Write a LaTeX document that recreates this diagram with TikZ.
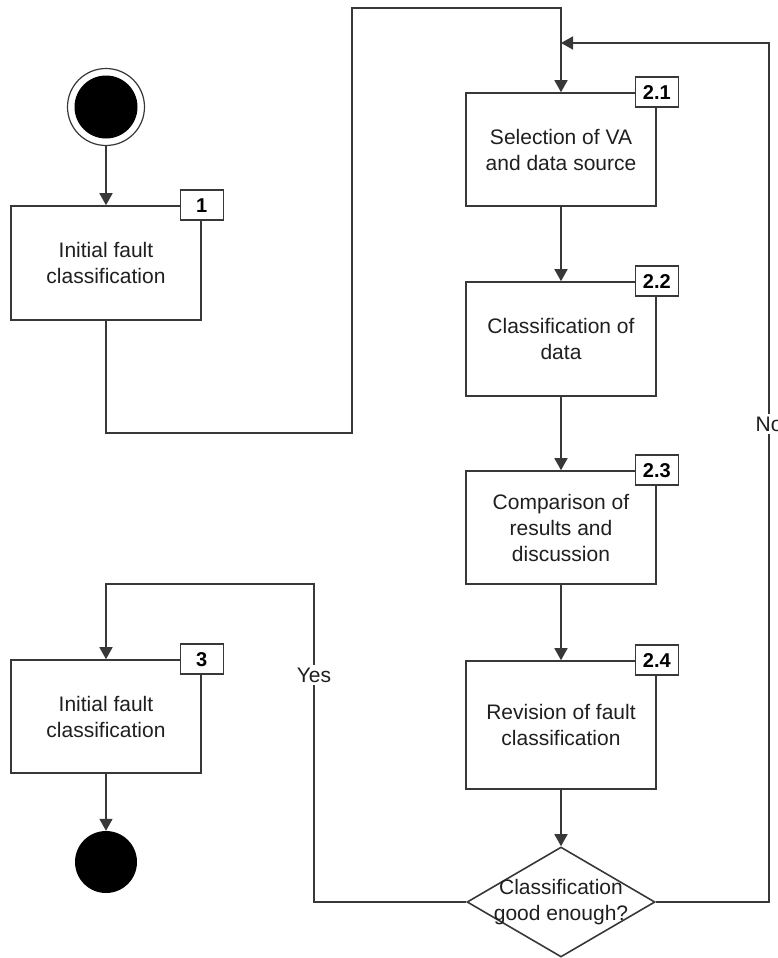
\documentclass[tikz,border=0pt]{standalone}
\usepackage{fontspec}
\setmainfont{Liberation Sans}
\usetikzlibrary{arrows.meta,shapes.geometric}
\begin{document}
\begin{tikzpicture}[x=1pt,y=-1pt,
  line/.style={draw=black!78,line width=1.6pt},
  flow/.style={line,-{Triangle[width=13pt,length=12pt]}},
  txt/.style={font=\fontsize{21}{26}\selectfont,text=black!88},
  stepbox/.style={line,txt,rectangle,fill=white,minimum width=190pt,
    minimum height=114pt,inner sep=0pt,align=center},
  tagbox/.style={line,rectangle,fill=white,minimum width=43pt,
    minimum height=30pt,inner sep=0pt,font=\fontsize{20}{24}\selectfont\bfseries},
  lbl/.style={txt,fill=white,inner sep=3pt}
]
\useasboundingbox (0,0) rectangle (777,958);

% start and end markers
\node[circle,line,line width=1.2pt,minimum size=77pt,inner sep=0pt] (start) at (106,107) {};
\fill[black] (start.center) circle (31.5);
\node[circle,fill=black,minimum size=62pt,inner sep=0pt] (finish) at (106,862) {};

% activity boxes
\node[stepbox] (b1) at (106,263) {Initial fault\\classification};
\node[stepbox,minimum height=113pt] (b21) at (561,149.5) {Selection of VA\\and data source};
\node[stepbox] (b22) at (561,339) {Classification of\\data};
\node[stepbox,minimum height=113pt] (b23) at (561,527.5) {Comparison of\\results and\\discussion};
\node[stepbox,minimum height=128pt] (b24) at (561,725) {Revision of fault\\classification};
\node[stepbox,minimum height=113pt] (b3) at (106,716.5) {Initial fault\\classification};

% decision
\node[line,diamond,minimum width=188pt,minimum height=110pt,inner sep=0pt,
  label={[txt,align=center]center:Classification\\good enough?}] (dec) at (561,902) {};

% step numbers
\node[tagbox] (t1) at (b1.north east) {1};
\node[tagbox] (t21) at (b21.north east) {2.1};
\node[tagbox] (t22) at (b22.north east) {2.2};
\node[tagbox] (t23) at (b23.north east) {2.3};
\node[tagbox] (t24) at (b24.north east) {2.4};
\node[tagbox] (t3) at (b3.north east) {3};

% routing points
\coordinate (c1) at (352,433);
\coordinate (c2) at (352,8);
\coordinate (c3) at (769,43);
\coordinate (m) at (561,43);
\coordinate (c4) at (314,584);

% connectors
\draw[flow] (start) -- (b1);
\draw[flow] (b1.south) |- (c1) -- (c2) -| (b21.north);
\draw[flow] (b21) -- (b22);
\draw[flow] (b22) -- (b23);
\draw[flow] (b23) -- (b24);
\draw[flow] (b24) -- (dec);
\draw[flow] (dec.east) -| (c3) -- (m);
\draw[flow] (dec.west) -| (c4) -| (b3.north);
\draw[flow] (b3) -- (finish);

% branch labels
\node[lbl] (yes) at (314,675) {Yes};
\node[lbl] (no) at (769,424) {No};
\end{tikzpicture}
\end{document}
